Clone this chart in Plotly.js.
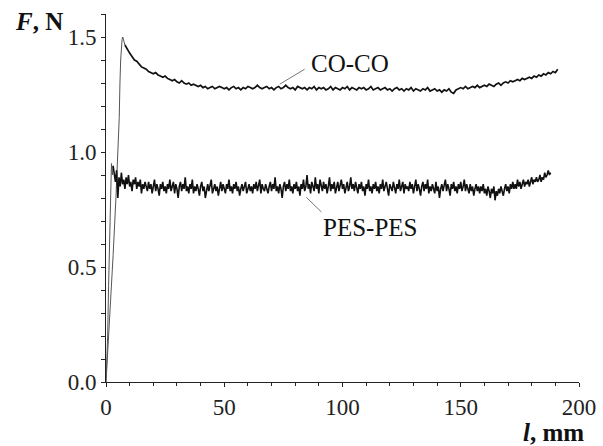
<!DOCTYPE html>
<html>
<head>
<meta charset="utf-8">
<script src="https://cdn.plot.ly/plotly-3.0.1.min.js"></script>
<style>html,body{margin:0;padding:0;background:#fff;}#chart{width:603px;height:446px;}</style>
</head>
<body>
<div id="chart"></div>
<script>
// ---- data ----
// CO-CO: start-up rise (l, F)
const coRiseL = [0, 0.3, 1.5, 3.0, 4.2, 5.1, 5.6, 5.9, 6.2, 6.8, 7.1];
const coRiseF = [0, 0.05, 0.25, 0.55, 0.80, 1.00, 1.15, 1.30, 1.40, 1.49, 1.50];
// CO-CO: steady part, one reading per mm from l = 8 mm
const coStart = 8, coStep = 1;
const coF = [
 1.465,1.445,1.43,1.415,1.40,1.395,1.38,1.37,1.365,1.36,
 1.35,1.345,1.34,1.345,1.335,1.33,1.325,1.33,1.32,1.315,
 1.31,1.315,1.305,1.30,1.31,1.30,1.295,1.30,1.29,1.295,
 1.29,1.285,1.29,1.28,1.285,1.275,1.28,1.285,1.275,1.28,
 1.285,1.28,1.275,1.28,1.27,1.28,1.285,1.275,1.28,1.27,
 1.28,1.275,1.285,1.28,1.275,1.28,1.29,1.28,1.275,1.28,
 1.285,1.275,1.28,1.27,1.28,1.285,1.275,1.28,1.29,1.28,
 1.275,1.28,1.27,1.285,1.28,1.275,1.28,1.27,1.28,1.275,
 1.285,1.27,1.28,1.275,1.28,1.27,1.275,1.285,1.27,1.28,
 1.275,1.27,1.28,1.275,1.285,1.27,1.28,1.275,1.27,1.28,
 1.275,1.28,1.27,1.275,1.285,1.27,1.275,1.28,1.27,1.275,
 1.28,1.27,1.275,1.265,1.275,1.28,1.27,1.275,1.265,1.275,
 1.27,1.28,1.265,1.275,1.27,1.265,1.275,1.27,1.28,1.265,
 1.27,1.275,1.265,1.27,1.26,1.27,1.265,1.275,1.26,1.255,
 1.27,1.275,1.28,1.275,1.285,1.275,1.28,1.285,1.28,1.29,
 1.28,1.285,1.29,1.285,1.295,1.29,1.285,1.295,1.30,1.29,
 1.30,1.305,1.30,1.31,1.305,1.31,1.315,1.31,1.32,1.315,
 1.32,1.325,1.32,1.33,1.325,1.335,1.33,1.34,1.335,1.345,
 1.34,1.35,1.345,1.36
];
// PES-PES: start-up rise (l, F)
const pesRiseL = [0, 0.3, 0.7, 1.1, 1.5, 1.9, 2.3, 2.7];
const pesRiseF = [0, 0.06, 0.20, 0.42, 0.65, 0.85, 0.95, 0.90];
// PES-PES: steady part, one reading per 0.5 mm from l = 3 mm
const pesStart = 3, pesStep = 0.5;
const pesF = [
 0.94,0.90,0.87,0.92,0.80,0.89,0.85,0.91,0.86,0.88,
 0.84,0.89,0.86,0.90,0.85,0.87,0.83,0.88,0.86,0.89,
 0.84,0.87,0.85,0.88,0.82,0.86,0.84,0.87,0.85,0.83,
 0.87,0.84,0.86,0.82,0.85,0.88,0.83,0.86,0.84,0.81,
 0.86,0.84,0.87,0.83,0.85,0.82,0.86,0.84,0.88,0.83,
 0.85,0.87,0.82,0.86,0.84,0.80,0.85,0.87,0.83,0.86,
 0.84,0.89,0.83,0.85,0.82,0.86,0.84,0.88,0.82,0.85,
 0.83,0.86,0.84,0.81,0.85,0.87,0.83,0.85,0.80,0.84,
 0.86,0.83,0.85,0.88,0.82,0.84,0.86,0.83,0.85,0.81,
 0.85,0.87,0.83,0.86,0.84,0.82,0.86,0.84,0.88,0.83,
 0.85,0.82,0.86,0.84,0.87,0.83,0.85,0.81,0.84,0.86,
 0.83,0.85,0.87,0.82,0.84,0.86,0.83,0.85,0.82,0.86,
 0.84,0.87,0.83,0.85,0.88,0.82,0.86,0.84,0.83,0.86,
 0.84,0.82,0.85,0.87,0.83,0.86,0.84,0.89,0.83,0.85,
 0.82,0.86,0.84,0.80,0.85,0.87,0.83,0.86,0.84,0.88,
 0.83,0.85,0.82,0.86,0.84,0.87,0.83,0.85,0.81,0.86,
 0.84,0.88,0.83,0.85,0.90,0.84,0.86,0.82,0.87,0.85,
 0.83,0.89,0.84,0.86,0.82,0.88,0.85,0.83,0.87,0.84,
 0.86,0.82,0.85,0.89,0.83,0.86,0.84,0.87,0.82,0.85,
 0.87,0.83,0.85,0.88,0.84,0.86,0.82,0.85,0.87,0.83,
 0.85,0.89,0.84,0.86,0.83,0.87,0.84,0.82,0.86,0.84,
 0.87,0.83,0.85,0.81,0.86,0.84,0.88,0.83,0.85,0.82,
 0.86,0.84,0.87,0.83,0.85,0.82,0.86,0.84,0.88,0.83,
 0.85,0.87,0.84,0.81,0.86,0.84,0.83,0.87,0.85,0.82,
 0.86,0.84,0.88,0.83,0.85,0.87,0.82,0.86,0.84,0.85,
 0.83,0.87,0.84,0.86,0.82,0.85,0.88,0.83,0.86,0.84,
 0.81,0.85,0.87,0.83,0.86,0.84,0.88,0.82,0.85,0.83,
 0.86,0.84,0.82,0.87,0.83,0.85,0.80,0.84,0.86,0.83,
 0.85,0.88,0.83,0.86,0.84,0.81,0.86,0.84,0.87,0.83,
 0.85,0.82,0.86,0.84,0.87,0.83,0.85,0.88,0.83,0.86,
 0.84,0.82,0.86,0.83,0.85,0.81,0.84,0.86,0.83,0.85,
 0.82,0.85,0.83,0.86,0.82,0.84,0.81,0.85,0.83,0.80,
 0.84,0.82,0.85,0.79,0.83,0.81,0.84,0.82,0.85,0.83,
 0.81,0.84,0.86,0.83,0.85,0.82,0.86,0.84,0.87,0.84,
 0.86,0.84,0.88,0.85,0.87,0.84,0.86,0.88,0.85,0.87,
 0.86,0.88,0.85,0.87,0.89,0.86,0.88,0.87,0.89,0.87,
 0.88,0.90,0.87,0.89,0.88,0.91,0.89,0.90,0.92,0.90,
 0.91
];
const xTickVals = [0, 50, 100, 150, 200];
const xTickText = ['0', '50', '100', '150', '200'];
const yTickVals = [0, 0.5, 1.0, 1.5];
const yTickText = ['0.0', '0.5', '1.0', '1.5'];
const seriesNames = ['CO-CO', 'PES-PES'];

// ---- build traces ----
const coPlL = coF.map((_, i) => coStart + i * coStep);
const pesPlL = pesF.map((_, i) => pesStart + i * pesStep);

const FONT = '"Liberation Serif", "Times New Roman", serif';
const traces = [
  {x: coRiseL.concat([coPlL[0]]), y: coRiseF.concat([coF[0]]), type: 'scatter', mode: 'lines',
   line: {color: '#555', width: 1}, hoverinfo: 'skip'},
  {x: pesRiseL.concat([pesPlL[0]]), y: pesRiseF.concat([pesF[0]]), type: 'scatter', mode: 'lines',
   line: {color: '#555', width: 1}, hoverinfo: 'skip'},
  {x: coPlL, y: coF, type: 'scatter', mode: 'lines', name: seriesNames[0],
   line: {color: '#111', width: 1.7}, hoverinfo: 'skip'},
  {x: pesPlL, y: pesF, type: 'scatter', mode: 'lines', name: seriesNames[1],
   line: {color: '#111', width: 1.6}, hoverinfo: 'skip'}
];

function tf() { return {family: FONT, size: 23, color: '#222'}; }
const axBase = {showgrid: false, zeroline: false, showline: true, linecolor: '#222', linewidth: 1,
  tickcolor: '#222', tickwidth: 1};

const layout = {
  width: 603, height: 446,
  font: {family: FONT, size: 23, color: '#222'},
  margin: {l: 106, r: 24, t: 14, b: 64, pad: 0},
  paper_bgcolor: '#fff', plot_bgcolor: '#fff',
  showlegend: false,
  xaxis: Object.assign({}, axBase, {range: [0, 200], tickmode: 'array', tickvals: xTickVals, ticktext: xTickText,
    tickfont: tf(), ticks: 'outside', ticklen: 4,
    minor: {dtick: 10, ticks: 'outside', ticklen: 3, tickcolor: '#222', showgrid: false}}),
  xaxis2: Object.assign({}, axBase, {range: [0, 200], overlaying: 'x', anchor: 'y', side: 'bottom',
    tickmode: 'array', tickvals: xTickVals, showticklabels: false,
    ticks: 'inside', ticklen: 4, minor: {dtick: 10, ticks: 'inside', ticklen: 3, tickcolor: '#222', showgrid: false}}),
  yaxis: Object.assign({}, axBase, {range: [0, 1.6], tickmode: 'array', tickvals: yTickVals, ticktext: yTickText,
    tickfont: tf(), ticks: 'outside', ticklen: 4,
    minor: {dtick: 0.1, ticks: 'outside', ticklen: 4, tickcolor: '#222', showgrid: false}}),
  yaxis2: Object.assign({}, axBase, {range: [0, 1.6], overlaying: 'y', anchor: 'x', side: 'left',
    tickmode: 'array', tickvals: yTickVals, showticklabels: false,
    ticks: 'inside', ticklen: 4, minor: {dtick: 0.1, ticks: 'inside', ticklen: 4, tickcolor: '#222', showgrid: false}}),
  shapes: [
    {type: 'line', xref: 'x', yref: 'y', x0: 73.5, y0: 1.295, x1: 84, y1: 1.36, line: {color: '#777', width: 1}},
    {type: 'line', xref: 'x', yref: 'y', x0: 84.7, y0: 0.803, x1: 91.1, y1: 0.739, line: {color: '#777', width: 1}}
  ],
  annotations: [
    {xref: 'x', yref: 'y', x: 103, y: 1.385, text: seriesNames[0], showarrow: false,
     font: {family: FONT, size: 25, color: '#111'}, xanchor: 'center', yanchor: 'middle'},
    {xref: 'x', yref: 'y', x: 111.5, y: 0.672, text: seriesNames[1], showarrow: false,
     font: {family: FONT, size: 25, color: '#111'}, xanchor: 'center', yanchor: 'middle'},
    {xref: 'paper', yref: 'paper', x: (13 - 106) / 473, y: (446 - 64 - 21) / 368, text: '<b><i>F</i>, N</b>', showarrow: false,
     font: {family: FONT, size: 25, color: '#111'}, xanchor: 'left', yanchor: 'middle'},
    {xref: 'paper', yref: 'paper', x: (586 - 106) / 473, y: (446 - 64 - 432) / 368, text: '<b><i>l</i>, mm</b>', showarrow: false,
     font: {family: FONT, size: 25, color: '#111'}, xanchor: 'right', yanchor: 'middle'}
  ]
};

Plotly.newPlot('chart', traces, layout, {staticPlot: true, displayModeBar: false});
</script>
</body>
</html>
